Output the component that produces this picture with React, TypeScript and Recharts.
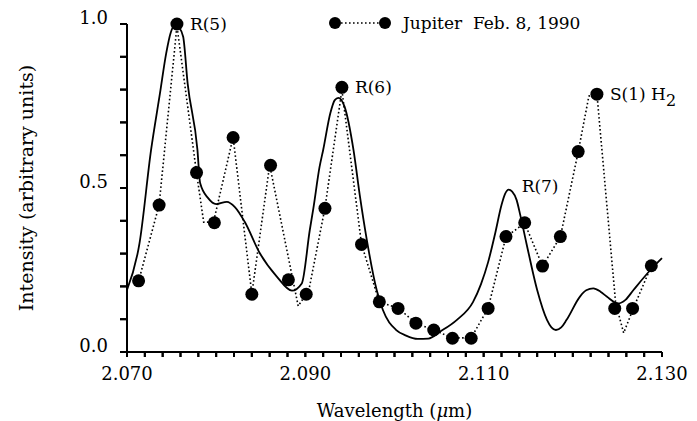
import React from "react";
import { ComposedChart, Line, Scatter, XAxis, YAxis } from "recharts";

// observed points (filled circles)
const dotWavelength = [
  2.0713, 2.0736, 2.0756, 2.0778, 2.0798, 2.0819, 2.084, 2.0861, 2.0881,
  2.0901, 2.0922, 2.0941, 2.0963, 2.0983, 2.1004, 2.1024, 2.1044, 2.1065,
  2.1086, 2.1105, 2.1125, 2.1146, 2.1166, 2.1186, 2.1206, 2.1227, 2.1247,
  2.1267, 2.1288,
];
const dotIntensity = [
  0.217, 0.448, 1.0, 0.547, 0.394, 0.654, 0.176, 0.569, 0.22, 0.176, 0.438,
  0.807, 0.328, 0.153, 0.133, 0.088, 0.067, 0.042, 0.042, 0.133, 0.352, 0.394,
  0.262, 0.352, 0.611, 0.786, 0.133, 0.133, 0.263,
];

// dotted trace joining the observations
const dottedWavelength = [
  2.0713, 2.0736, 2.0756, 2.0778, 2.0786, 2.0797, 2.0819, 2.084, 2.086, 2.0892,
  2.0904, 2.0922, 2.0941, 2.0963, 2.0983, 2.1004, 2.1024, 2.1044, 2.1065,
  2.1086, 2.1105, 2.1125, 2.1146, 2.1166, 2.1186, 2.1206, 2.1218, 2.1227,
  2.1248, 2.1257, 2.1268, 2.1288,
];
const dottedIntensity = [
  0.216, 0.448, 0.994, 0.546, 0.396, 0.396, 0.655, 0.177, 0.57, 0.14, 0.189,
  0.439, 0.799, 0.329, 0.152, 0.134, 0.088, 0.067, 0.043, 0.043, 0.134, 0.351,
  0.393, 0.262, 0.351, 0.61, 0.78, 0.787, 0.149, 0.058, 0.134, 0.262,
];

// solid model spectrum
const modelWavelength = [
  2.07, 2.0714, 2.0727, 2.0737, 2.0744, 2.0749, 2.0754, 2.0758, 2.0763, 2.0768,
  2.0779, 2.0782, 2.0791, 2.08, 2.0812, 2.0821, 2.0832, 2.0849, 2.0868, 2.0885,
  2.0896, 2.0905, 2.0909, 2.0916, 2.092, 2.0928, 2.0933, 2.0937, 2.0944,
  2.0954, 2.0961, 2.0969, 2.098, 2.0987, 2.1002, 2.1013, 2.1026, 2.1038,
  2.1051, 2.107, 2.1088, 2.1097, 2.1105, 2.1113, 2.112, 2.1124, 2.1128, 2.1132,
  2.1137, 2.1141, 2.1148, 2.116, 2.1171, 2.1176, 2.1181, 2.1187, 2.1193,
  2.1208, 2.1215, 2.1223, 2.1231, 2.1238, 2.1251, 2.1259, 2.1268, 2.1287, 2.13,
];
const modelIntensity = [
  0.189, 0.331, 0.616, 0.789, 0.911, 0.973, 0.998, 0.991, 0.961, 0.819, 0.616,
  0.515, 0.469, 0.451, 0.458, 0.442, 0.397, 0.301, 0.23, 0.187, 0.209, 0.372,
  0.438, 0.565, 0.616, 0.728, 0.768, 0.775, 0.748, 0.616, 0.479, 0.341, 0.189,
  0.128, 0.067, 0.05, 0.04, 0.041, 0.062, 0.098, 0.152, 0.207, 0.274, 0.363,
  0.448, 0.482, 0.495, 0.489, 0.463, 0.418, 0.331, 0.189, 0.098, 0.075, 0.067,
  0.075, 0.098, 0.169, 0.188, 0.194, 0.184, 0.169, 0.148, 0.159, 0.189, 0.25,
  0.286,
];

// line identifications
const lineNames = ["R(5)", "R(6)", "R(7)", "S(1) H"];
const lineWavelength = [2.0756, 2.0941, 2.1128, 2.1227];
const lineIntensity = [1.0, 0.807, 0.505, 0.786];

const xMajor = [2.07, 2.09, 2.11, 2.13];
const xTicks = Array.from({ length: 31 }, (_, i) => +(2.07 + i * 0.002).toFixed(3));
const yMajor = [0, 0.5, 1];
const yTicks = [0, 0.1, 0.2, 0.3, 0.4, 0.5, 0.6, 0.7, 0.8, 0.9, 1.0];

const zip = (xs: number[], ys: number[]) => xs.map((x, i) => ({ x, y: ys[i] }));
const dots = zip(dotWavelength, dotIntensity);
const dotted = zip(dottedWavelength, dottedIntensity);
const model = zip(modelWavelength, modelIntensity);
const notes = lineNames.map((label, i) => ({
  x: lineWavelength[i],
  y: lineIntensity[i],
  label,
}));
// tick marks placed through the chart scales
const tickMarks = [
  ...xTicks.map((x) => ({ x, y: 0, dir: "x" })),
  ...yTicks.map((y) => ({ x: 2.07, y, dir: "y" })),
];

const FONT = "'DejaVu Serif', serif";

const isMajor = (v: number, list: number[]) =>
  list.some((m) => Math.abs(m - v) < 1e-6);

// labels only on the majors
const XTick = (props: any) => {
  const { x, y, payload } = props;
  if (!isMajor(payload.value, xMajor)) return <g />;
  return (
    <text x={x} y={y + 23} textAnchor="middle" fontFamily={FONT} fontSize={18} fill="#000">
      {payload.value.toFixed(3)}
    </text>
  );
};

const YTick = (props: any) => {
  const { x, y, payload } = props;
  if (!isMajor(payload.value, yMajor)) return <g />;
  return (
    <text x={x - 12} y={y} textAnchor="end" fontFamily={FONT} fontSize={18} fill="#000">
      {payload.value.toFixed(1)}
    </text>
  );
};

const TickMark = (props: any) => {
  const { cx, cy, payload } = props;
  if (payload.dir === "x")
    return <line x1={cx} x2={cx} y1={cy} y2={cy + 5} stroke="#000" strokeWidth={2} />;
  return <line x1={cx - 7} x2={cx} y1={cy} y2={cy} stroke="#000" strokeWidth={2} />;
};

const Dot = (props: any) => <circle cx={props.cx} cy={props.cy} r={6.5} fill="#000" />;

const Note = (props: any) => {
  const { cx, cy, payload } = props;
  const isH2 = payload.label.startsWith("S(1)");
  return (
    <text x={cx + 13} y={cy + 6} fontFamily={FONT} fontSize={17} fill="#000">
      {payload.label}
      {isH2 && (
        <tspan dy={6} fontSize={16}>
          2
        </tspan>
      )}
    </text>
  );
};

export default function App() {
  return (
    <div style={{ position: "absolute", left: 0, top: 0, width: 697, height: 421, background: "#fff" }}>
      <ComposedChart
        width={697}
        height={421}
        margin={{ top: 24, right: 35, bottom: 0, left: 0 }}
      >
        <XAxis
          type="number"
          dataKey="x"
          domain={[2.07, 2.13]}
          ticks={xTicks}
          interval={0}
          height={69}
          tickSize={5}
          tickMargin={0}
          tickLine={{ stroke: "#000", strokeWidth: 2 }}
          tick={<XTick />}
          axisLine={{ stroke: "#000", strokeWidth: 2 }}
          label={(p: any) => {
            const vb = p.viewBox;
            return (
              <text x={vb.x + vb.width / 2} y={vb.y + 65} textAnchor="middle" fontFamily={FONT} fontSize={18} fill="#000">
                Wavelength (<tspan fontStyle="italic">μ</tspan>m)
              </text>
            );
          }}
        />
        <YAxis
          type="number"
          dataKey="y"
          domain={[0, 1]}
          ticks={yTicks}
          interval={0}
          width={127}
          tickSize={7}
          tickMargin={0}
          tickLine={{ stroke: "#000", strokeWidth: 2 }}
          tick={<YTick />}
          axisLine={{ stroke: "#000", strokeWidth: 2 }}
          label={(p: any) => {
            const vb = p.viewBox;
            const cx = vb.x + 33;
            const cy = vb.y + vb.height / 2;
            return (
              <text x={cx} y={cy} transform={`rotate(-90 ${cx} ${cy})`} textAnchor="middle" fontFamily={FONT} fontSize={19} fill="#000">
                Intensity (arbitrary units)
              </text>
            );
          }}
        />
        <Scatter data={tickMarks} shape={<TickMark />} isAnimationActive={false} />
        <Line
          data={model}
          dataKey="y"
          type="monotone"
          stroke="#000"
          strokeWidth={1.8}
          dot={false}
          isAnimationActive={false}
        />
        <Line
          data={dotted}
          dataKey="y"
          type="linear"
          stroke="#000"
          strokeWidth={1.6}
          strokeDasharray="1.6 2.4"
          dot={false}
          isAnimationActive={false}
        />
        <Scatter data={dots} shape={<Dot />} isAnimationActive={false} />
        <Scatter data={notes} shape={<Note />} isAnimationActive={false} />
      </ComposedChart>
      <svg width={697} height={40} style={{ position: "absolute", left: 0, top: 0 }}>
        <line x1={341} x2={379} y1={23} y2={23} stroke="#000" strokeWidth={1.5} strokeDasharray="1.6 2.4" />
        <circle cx={335} cy={23} r={6} fill="#000" />
        <circle cx={385} cy={23} r={6} fill="#000" />
        <text x={403} y={29} fontFamily={FONT} fontSize={17} fill="#000" xmlSpace="preserve">
          {"Jupiter  Feb. 8, 1990"}
        </text>
      </svg>
    </div>
  );
}
